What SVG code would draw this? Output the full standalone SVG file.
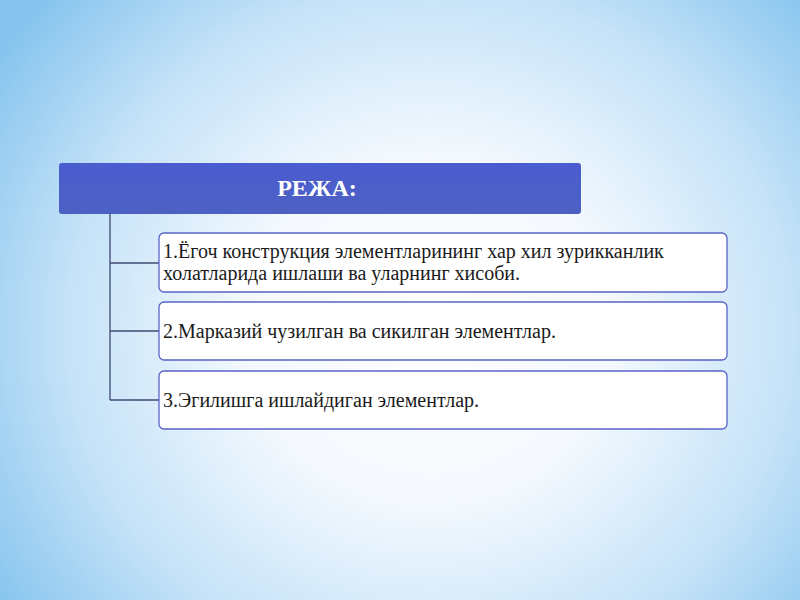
<svg xmlns="http://www.w3.org/2000/svg" width="800" height="600" viewBox="0 0 800 600">
<defs>
<radialGradient id="bg" cx="430" cy="330" r="520" gradientUnits="userSpaceOnUse" gradientTransform="translate(430 330) scale(1 0.95) translate(-430 -330)">
<stop offset="0" stop-color="#ffffff"/>
<stop offset="0.35" stop-color="#f4f9fe"/>
<stop offset="0.7" stop-color="#c4e2f8"/>
<stop offset="1" stop-color="#86c4ee"/>
</radialGradient>
<linearGradient id="hdr" x1="0" y1="0" x2="0" y2="1">
<stop offset="0" stop-color="#4a5ccf"/>
<stop offset="1" stop-color="#4d61c4"/>
</linearGradient>
<style>
.box{fill:#ffffff;stroke:#5a63c8;stroke-width:1.3}
.t{font-family:"Liberation Serif",serif;font-size:20px;fill:#1a1a1a}
.conn{fill:none;stroke:#3f4a72;stroke-width:1.3}
</style>
</defs>
<rect width="800" height="600" fill="url(#bg)"/>
<g id="connectors">
<path class="conn" d="M110 214 V400 M110 263 H159 M110 331 H159 M110 400 H159"/>
</g>
<g id="header">
<rect x="59" y="163" width="522" height="51" rx="3" fill="url(#hdr)"/>
<text x="317" y="196" text-anchor="middle" font-family="'Liberation Serif',serif" font-size="24" font-weight="bold" fill="#ffffff">РЕЖА:</text>
</g>
<g id="item1">
<rect class="box" x="159" y="233" width="568" height="59" rx="5"/>
<text class="t" x="163" y="258">1.Ёгоч конструкция элементларининг хар хил зурикканлик</text>
<text class="t" x="163" y="280">холатларида ишлаши ва уларнинг хисоби.</text>
</g>
<g id="item2">
<rect class="box" x="159" y="302" width="568" height="58" rx="5"/>
<text class="t" x="163" y="338">2.Марказий чузилган ва сикилган элементлар.</text>
</g>
<g id="item3">
<rect class="box" x="159" y="371" width="568" height="58" rx="5"/>
<text class="t" x="163" y="407">3.Эгилишга ишлайдиган элементлар.</text>
</g>
</svg>
